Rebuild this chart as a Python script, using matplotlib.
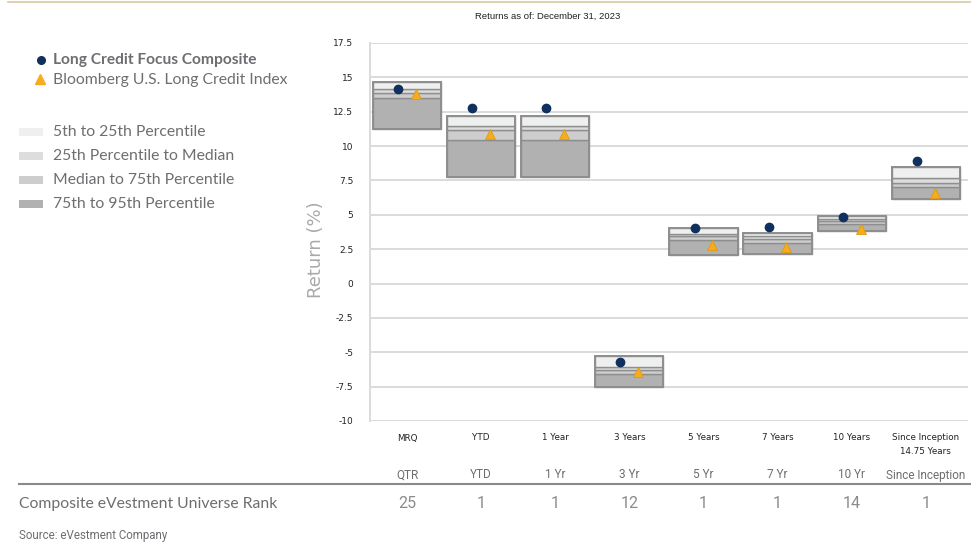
import matplotlib
matplotlib.use('Agg')
import matplotlib.pyplot as plt
import matplotlib.transforms as mtransforms
from matplotlib.patches import Rectangle
from matplotlib.lines import Line2D

# ----- data --------------------------------------------------------------
categories = ['MRQ', 'YTD', '1 Year', '3 Years', '5 Years', '7 Years',
              '10 Years', 'Since Inception\n14.75 Years']

# universe percentiles (return, %)
p05 = [14.64, 12.20, 12.20, -5.30, 4.01, 3.70, 4.94, 8.46]
p25 = [14.13, 11.45, 11.45, -6.10, 3.62, 3.45, 4.72, 7.68]
p50 = [13.83, 11.20, 11.20, -6.27, 3.43, 3.26, 4.55, 7.34]
p75 = [13.47, 10.45, 10.45, -6.59, 3.14, 2.97, 4.30, 7.03]
p95 = [11.26, 7.76, 7.76, -7.54, 2.09, 2.17, 3.79, 6.13]

composite = [14.15, 12.76, 12.76, -5.74, 4.06, 4.11, 4.84, 8.92]
benchmark = [13.80, 10.85, 10.85, -6.47, 2.77, 2.65, 3.99, 6.59]

periods = ['QTR', 'YTD', '1 Yr', '3 Yr', '5 Yr', '7 Yr', '10 Yr', 'Since Inception']
ranks = [25, 1, 1, 12, 1, 1, 14, 1]

yticks = [17.5, 15, 12.5, 10, 7.5, 5, 2.5, 0, -2.5, -5, -7.5, -10]
ytick_labels = ['17.5', '15', '12.5', '10', '7.5', '5', '2.5', '0',
                '-2.5', '-5', '-7.5', '-10']

# ----- styles ------------------------------------------------------------
band_colors = ['#eeefef', '#dddddd', '#cdcdcd', '#b1b1b1']
edge = '#8e8e8e'
navy = '#10305e'
gold = '#f5ac1e'
grey_txt = '#6d6e71'
W, H = 971., 544.


def fx(x):
    return x / W


def fy(y):
    return 1 - y / H


fig = plt.figure(figsize=(9.71, 5.44), dpi=100)
ax = fig.add_axes([fx(370), fy(421), fx(968) - fx(370), fy(43) - fy(421)])

x = list(range(len(categories)))
bw = 0.92

# stacked percentile bands, darkest at the bottom
lows = [p95, p75, p50, p25]
highs = [p75, p50, p25, p05]
for lo, hi, col in zip(lows, highs, reversed(band_colors)):
    ax.bar(x, [h - l for h, l in zip(hi, lo)], bottom=lo, width=bw,
           color=col, edgecolor=edge, linewidth=1.0, zorder=2)
# outer frame of each box
ax.bar(x, [h - l for h, l in zip(p05, p95)], bottom=p95, width=bw,
       color='none', edgecolor=edge, linewidth=1.4, zorder=3)

ax.plot([i - 0.12 for i in x], composite, 'o', color=navy, markersize=6,
        zorder=5)
ax.plot([i + 0.12 for i in x], benchmark, '^', color=gold, markersize=7,
        markeredgecolor='#e09a10', markeredgewidth=0.6, zorder=5)

ax.set_xlim(-0.5, 7.57)
ax.set_ylim(-10, 17.5)
ax.set_yticks(yticks)
ax.set_yticklabels(ytick_labels, family='DejaVu Sans', fontsize=6.5,
                   color='#222222')
ax.set_xticks(x)
ax.set_xticklabels(categories, family='DejaVu Sans', fontsize=6.3,
                   color='#222222', linespacing=1.6, va='top')
ax.tick_params(axis='both', length=0)
ax.tick_params(axis='y', pad=12)
ax.tick_params(axis='x', pad=9)
ax.grid(True, axis='y', color='#dadada', linewidth=1.4, zorder=0)
ax.set_axisbelow(True)
for s in ['top', 'right', 'bottom']:
    ax.spines[s].set_visible(False)
ax.spines['left'].set_color('#dadada')
ax.spines['left'].set_linewidth(1.4)

# axis title, sitting a little below the axes centre
fig.text(fx(316), fy(250), 'Return (%)', family='DejaVu Sans', fontsize=13,
         color='#a7a9ac', rotation=90, ha='center', va='center')

# title and top rule
fig.text(fx(548), fy(16), 'Returns as of: December 31, 2023',
         family='Liberation Sans', fontsize=6.8, color='#222222',
         ha='center', va='center')
fig.add_artist(Line2D([fx(8), 1], [fy(2), fy(2)], color='#d8caa2',
                      linewidth=1.2))

# legend
fig.add_artist(Line2D([fx(41)], [fy(60)], marker='o', color=navy,
                      markersize=5.5, linestyle='none'))
fig.add_artist(Line2D([fx(40)], [fy(79)], marker='^', color=gold,
                      markersize=7, linestyle='none'))
fig.text(fx(53), fy(60), 'Long Credit Focus Composite', family='Lato',
         fontsize=11.2, weight='bold', color=grey_txt, va='center')
fig.text(fx(53), fy(80), 'Bloomberg U.S. Long Credit Index', family='Lato',
         fontsize=11.3, color=grey_txt, va='center')

band_names = ['5th to 25th Percentile', '25th Percentile to Median',
              'Median to 75th Percentile', '75th to 95th Percentile']
for i, (name, col) in enumerate(zip(band_names, band_colors)):
    yc = 132 + i * 24
    fig.add_artist(Rectangle((fx(19), fy(yc + 4)), fx(24), fy(yc - 4) - fy(yc + 4),
                             facecolor=col, edgecolor='none',
                             transform=fig.transFigure))
    fig.text(fx(53), fy(yc), name, family='Lato', fontsize=11.3,
             color=grey_txt, va='center')

# rank table under the chart
trans = mtransforms.blended_transform_factory(ax.transData, fig.transFigure)
for i, (p, r) in enumerate(zip(periods, ranks)):
    fig.text(i, fy(475), p, transform=trans, family='Roboto',
             fontsize=8.5, color=grey_txt, ha='center', va='center')
    fig.text(i, fy(504), str(r), transform=trans, family='Roboto',
             fontsize=11.5, color='#8a8b8d', ha='center', va='center')
fig.add_artist(Line2D([fx(19), 1], [fy(484), fy(484)], color='#8a8a8a',
                      linewidth=1.5))
fig.text(fx(19), fy(504), 'Composite eVestment Universe Rank', family='Lato',
         fontsize=11.3, color=grey_txt, va='center')
fig.text(fx(19), fy(535), 'Source: eVestment Company', family='Roboto',
         fontsize=8.3, color=grey_txt, va='center')

fig.savefig('out.png', dpi=100)
